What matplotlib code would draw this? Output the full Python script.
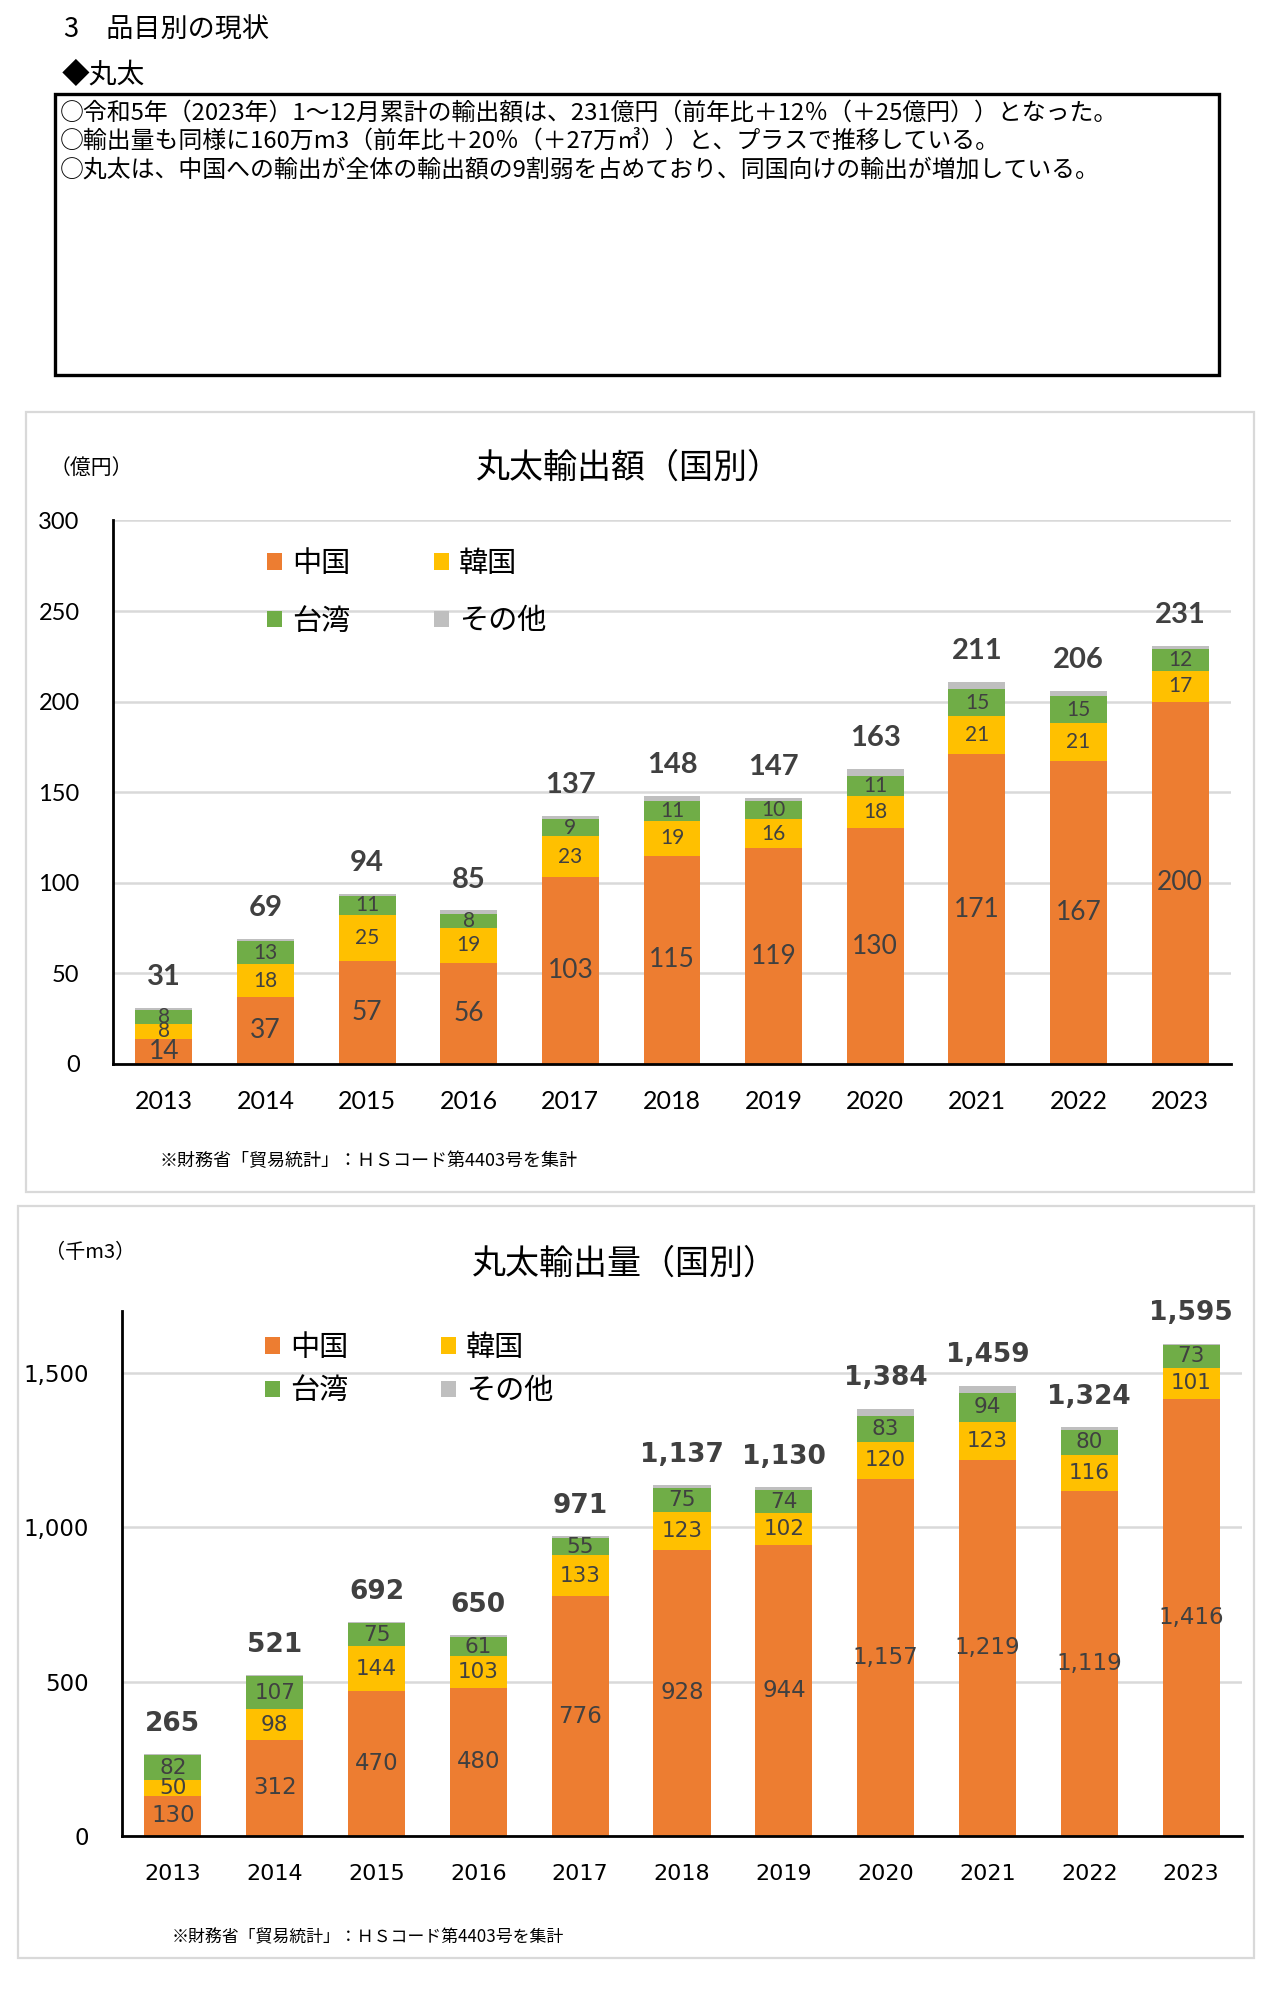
import matplotlib
matplotlib.use("Agg")
import matplotlib.pyplot as plt
from matplotlib.patches import Rectangle

plt.rcParams['font.family'] = ['Noto Sans CJK JP', 'DejaVu Sans']

W, H = 1272, 2001

# data
years = ['2013', '2014', '2015', '2016', '2017', '2018', '2019', '2020', '2021', '2022', '2023']
names = ['中国', '韓国', '台湾', 'その他']
colors = ['#ED7D31', '#FFC000', '#70AD47', '#BFBFBF']

# 輸出額（億円）
amt_china = [14, 37, 57, 56, 103, 115, 119, 130, 171, 167, 200]
amt_korea = [8, 18, 25, 19, 23, 19, 16, 18, 21, 21, 17]
amt_taiwan = [8, 13, 11, 8, 9, 11, 10, 11, 15, 15, 12]
amt_other = [1, 1, 1, 2, 2, 3, 2, 4, 4, 3, 2]
amt_total = [31, 69, 94, 85, 137, 148, 147, 163, 211, 206, 231]

# 輸出量（千m3）
vol_china = [130, 312, 470, 480, 776, 928, 944, 1157, 1219, 1119, 1416]
vol_korea = [50, 98, 144, 103, 133, 123, 102, 120, 123, 116, 101]
vol_taiwan = [82, 107, 75, 61, 55, 75, 74, 83, 94, 80, 73]
vol_other = [3, 4, 3, 6, 7, 11, 10, 24, 23, 9, 5]
vol_total = [265, 521, 692, 650, 971, 1137, 1130, 1384, 1459, 1324, 1595]

header = '3\u3000品目別の現状'
sub_header = '◆丸太'
body_lines = [
    '○令和5年（2023年）1～12月累計の輸出額は、231億円（前年比＋12％（＋25億円））となった。',
    '○輸出量も同様に160万m3（前年比＋20％（＋27万㎥））と、プラスで推移している。',
    '○丸太は、中国への輸出が全体の輸出額の9割弱を占めており、同国向けの輸出が増加している。',
]
source_note = '※財務省「貿易統計」：ＨＳコード第4403号を集計'


def box(left, top, right, bottom):
    return [left / W, 1 - bottom / H, (right - left) / W, (bottom - top) / H]


fig = plt.figure(figsize=(W / 100, H / 100), dpi=100)
fig.patch.set_facecolor('white')

# header
fig.text(64 / W, 1 - 30 / H, header, fontsize=19.5, va='center', ha='left')
fig.text(62 / W, 1 - 75 / H, sub_header, fontsize=20, va='center', ha='left')
fig.patches.append(Rectangle((55 / W, 1 - 375 / H), 1164 / W, 281 / H, transform=fig.transFigure,
                             fill=False, edgecolor='black', linewidth=2.4))
for i, line in enumerate(body_lines):
    fig.text(60 / W, 1 - (113 + 28.5 * i) / H, line, fontsize=17.2, va='center', ha='left')

# chart frames
fig.patches.append(Rectangle((26 / W, 1 - 1192 / H), 1228 / W, 780 / H, transform=fig.transFigure,
                             fill=False, edgecolor='#D9D9D9', linewidth=1.6))
fig.patches.append(Rectangle((18 / W, 1 - 1958 / H), 1236 / W, 752 / H, transform=fig.transFigure,
                             fill=False, edgecolor='#D9D9D9', linewidth=1.6))


def draw(ax, parts, totals, ymax, yticks, num_font, tick_fs, xtick_fs, big_fs, small_fs,
         total_fs, total_off, xpad, fmt):
    x = list(range(len(years)))
    bottom = [0] * len(years)
    conts = []
    for vals, c in zip(parts, colors):
        bc = ax.bar(x, vals, width=0.56, bottom=bottom, color=c, linewidth=0, zorder=3)
        conts.append(bc)
        bottom = [b + v for b, v in zip(bottom, vals)]
    for k, bc in enumerate(conts[:3]):
        ax.bar_label(bc, labels=[fmt.format(v) for v in parts[k]], label_type='center',
                     color='#404040', family=num_font,
                     fontsize=big_fs if k == 0 else small_fs, zorder=4)
    for i, (b, t) in enumerate(zip(bottom, totals)):
        ax.annotate(fmt.format(t), xy=(i, b), xytext=(0, total_off), textcoords='offset points',
                    ha='center', va='baseline', fontsize=total_fs, fontweight='bold',
                    color='#404040', family=num_font)
    ax.set_xlim(-0.5, len(years) - 0.5)
    ax.set_ylim(0, ymax)
    ax.set_yticks(yticks)
    ax.set_yticklabels([fmt.format(v) for v in yticks], family=num_font, fontsize=tick_fs)
    ax.set_xticks(x)
    ax.set_xticklabels(years, family=num_font, fontsize=xtick_fs)
    ax.tick_params(axis='y', length=0, pad=24)
    ax.tick_params(axis='x', length=0, pad=xpad)
    ax.yaxis.grid(True, color='#D9D9D9', linewidth=1.8)
    ax.set_axisbelow(True)
    for s in ['top', 'right']:
        ax.spines[s].set_visible(False)
    for s in ['left', 'bottom']:
        ax.spines[s].set_color('black')
        ax.spines[s].set_linewidth(2)
        ax.spines[s].set_zorder(5)
    return conts


# chart 1: 輸出額
ax1 = fig.add_axes(box(113, 520.5, 1231, 1064))
c1 = draw(ax1, [amt_china, amt_korea, amt_taiwan, amt_other], amt_total, 300,
          [0, 50, 100, 150, 200, 250, 300], 'Lato', 17, 18, 19, 15, 21, 16.2, 18.5, '{:,.0f}')
ax1.legend([c1[0], c1[2], c1[1], c1[3]], [names[0], names[2], names[1], names[3]], ncol=2,
           loc='upper left', bbox_to_anchor=(0.1377, 0.948), frameon=False, fontsize=21,
           handlelength=0.5, handleheight=0.5, handletextpad=0.35, columnspacing=2.88,
           labelspacing=0.95, borderpad=0, borderaxespad=0)
fig.text(629 / W, 1 - 468 / H, '丸太輸出額（国別）', fontsize=24.5, ha='center', va='center')
fig.text(91 / W, 1 - 468 / H, '（億円）', fontsize=15, ha='center', va='center')
fig.text(160 / W, 1 - 1161 / H, source_note, fontsize=13, ha='left', va='center')

# chart 2: 輸出量
ax2 = fig.add_axes(box(122, 1311.2, 1242, 1836))
c2 = draw(ax2, [vol_china, vol_korea, vol_taiwan, vol_other], vol_total, 1700,
          [0, 500, 1000, 1500], 'DejaVu Sans', 16.5, 16, 16.5, 15.5, 19, 16.8, 20, '{:,.0f}')
ax2.legend([c2[0], c2[2], c2[1], c2[3]], [names[0], names[2], names[1], names[3]], ncol=2,
           loc='upper left', bbox_to_anchor=(0.1277, 0.959), frameon=False, fontsize=21,
           handlelength=0.5, handleheight=0.5, handletextpad=0.35, columnspacing=3.2,
           labelspacing=0.47, borderpad=0, borderaxespad=0)
fig.text(625 / W, 1 - 1264 / H, '丸太輸出量（国別）', fontsize=24.5, ha='center', va='center')
fig.text(90 / W, 1 - 1252 / H, '（千m3）', fontsize=14.5, ha='center', va='center')
fig.text(172 / W, 1 - 1937 / H, source_note, fontsize=12.2, ha='left', va='center')

fig.savefig('out.png', dpi=100)
